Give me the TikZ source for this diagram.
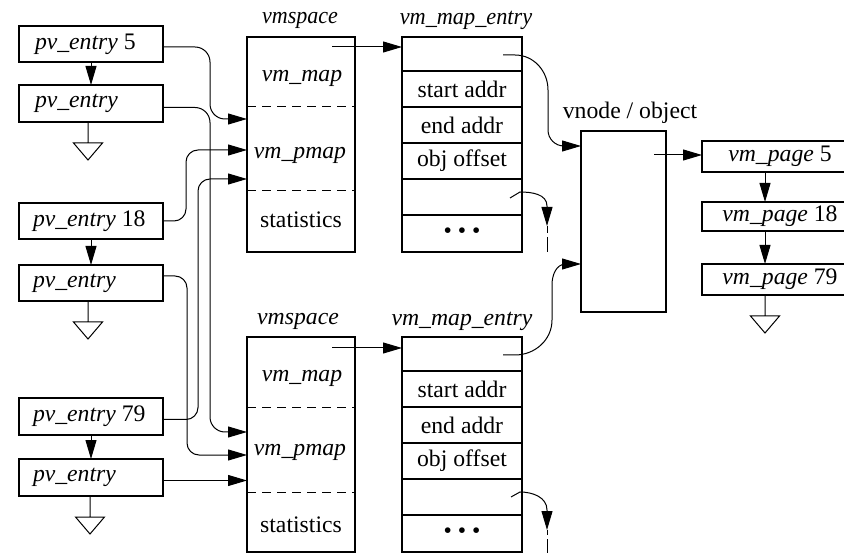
\documentclass[tikz,border=0pt]{standalone}
\usepackage{fontspec}
\setmainfont{Liberation Serif}
\usetikzlibrary{arrows.meta,calc}
\begin{document}
\begin{tikzpicture}[x=1pt,y=-1pt,
  every node/.style={font=\fontsize{23.7pt}{28pt}\selectfont, inner sep=0pt, outer sep=0pt},
  line width=1pt,
  >={Triangle[length=19pt,width=11pt]},
  frame/.style={draw, line width=1.2pt},
  pvbox/.style={frame, anchor=north west, minimum width=144pt, minimum height=36pt},
  pvtext/.style={anchor=west},
  pgbox/.style={frame, anchor=north west, minimum width=156pt, minimum height=31pt},
  cell/.style={frame, anchor=north west, minimum width=120pt, minimum height=36pt},
  spacebox/.style={frame, anchor=north west, minimum width=108pt, minimum height=215pt},
  sep/.style={dash pattern=on 9pt off 6pt},
  link/.style={->, rounded corners=15pt},
  ground/.pic={\draw (0,0) -- (0,21) (-14.5,21) -- (14.5,21) -- (0,38) -- cycle;}
]
\useasboundingbox (0,0) rectangle (844,553);

% ---- pv_entry chains ----
\node[pvbox] (pvA) at (19,26) {};
\node[pvbox, minimum height=37pt] (pvB) at (19,85) {};
\node[pvbox] (pvC) at (19,203) {};
\node[pvbox] (pvD) at (19,265) {};
\node[pvbox, minimum height=37pt] (pvE) at (19,398) {};
\node[pvbox, minimum height=37pt] (pvF) at (19,459) {};
\node[pvtext] (pvAt) at ($(pvA.west)+(16,0)$) {\textit{pv\_entry} 5};
\node[pvtext] (pvBt) at ($(pvB.west)+(16,0)$) {\textit{pv\_entry}};
\node[pvtext] (pvCt) at ($(pvC.west)+(14,0)$) {\textit{pv\_entry} 18};
\node[pvtext] (pvDt) at ($(pvD.west)+(14,0)$) {\textit{pv\_entry}};
\node[pvtext] (pvEt) at ($(pvE.west)+(14,0)$) {\textit{pv\_entry} 79};
\node[pvtext] (pvFt) at ($(pvF.west)+(14,0)$) {\textit{pv\_entry}};

\draw[->] (pvA.south) -- (pvB.north);
\draw[->] (pvC.south) -- (pvD.north);
\draw[->] (pvE.south) -- (pvF.north);
\pic at ($(pvB.south)+(-3,0)$) {ground};
\pic at ($(pvD.south)+(-3,0)$) {ground};
\pic at ($(pvF.south)+(-1,0)$) {ground};

% ---- vmspace (top) ----
\node[xscale=0.93] (vsAt) at (300,20) {\textit{vmspace}};
\node[spacebox] (vsA) at (247,37) {};
\draw[sep] (vsA.west |- 0,107) -- (vsA.east |- 0,107);
\draw[sep] (vsA.west |- 0,191) -- (vsA.east |- 0,191);
\node (vsAm) at (302,78) {\textit{vm\_map}};
\node (vsAp) at (300,155) {\textit{vm\_pmap}};
\node (vsAs) at (301,220) {statistics};

% ---- vmspace (bottom) ----
\node (vsBt) at (298,321) {\textit{vmspace}};
\node[spacebox] (vsB) at (247,337) {};
\draw[sep] (vsB.west |- 0,408) -- (vsB.east |- 0,408);
\draw[sep] (vsB.west |- 0,492) -- (vsB.east |- 0,492);
\node (vsBm) at (302,378) {\textit{vm\_map}};
\node (vsBp) at (300,452) {\textit{vm\_pmap}};
\node (vsBs) at (301,525) {statistics};

% ---- vm_map_entry (top) ----
\node[xscale=0.94] (meAt) at (466,20) {\textit{vm\_map\_entry}};
\node[cell, minimum height=34pt] (meA1) at (402,37) {};
\node[cell] (meA2) at (meA1.south west) {start addr};
\node[cell] (meA3) at (meA2.south west) {end addr};
\node[cell] (meA4) at (meA3.south west) {obj offset};
\node[cell] (meA5) at (meA4.south west) {};
\node[cell, minimum height=37pt] (meA6) at (meA5.south west) {• • •};

% ---- vm_map_entry (bottom) ----
\node (meBt) at (462,321) {\textit{vm\_map\_entry}};
\node[cell, minimum height=34pt] (meB1) at (402,337) {};
\node[cell] (meB2) at (meB1.south west) {start addr};
\node[cell] (meB3) at (meB2.south west) {end addr};
\node[cell] (meB4) at (meB3.south west) {obj offset};
\node[cell] (meB5) at (meB4.south west) {};
\node[cell, minimum height=37pt] (meB6) at (meB5.south west) {• • •};

% ---- vnode / object ----
\node (vnl) at (630,113) {vnode / object};
\node[frame, anchor=north west, minimum width=85pt, minimum height=181pt] (vn) at (581,131) {};

% ---- vm_page chain ----
\node[pgbox] (pg5) at (702,141) {\textit{vm\_page} 5};
\node[pgbox, minimum height=29pt] (pg18) at (702,202) {\textit{vm\_page} 18};
\node[pgbox] (pg79) at (702,264) {\textit{vm\_page} 79};
\draw[->] ($(pg5.south west)+(63,0)$) -- ($(pg18.north west)+(63,0)$);
\draw[->] ($(pg18.south west)+(63,0)$) -- ($(pg79.north west)+(63,0)$);
\pic at ($(pg79.south west)+(63,0)$) {ground};

% ---- pv_entry -> vmspace ----
\draw[link] ($(pvA.east)+(0,3)$) -| (210,119) -- (vsA.west |- 0,119);
\draw[link] ($(pvB.east)+(0,4)$) -| (210,432) -- (vsB.west |- 0,432);
\draw[link, rounded corners=12pt] (pvC.east) -| (186,150) -- (vsA.west |- 0,150);
\draw[link, rounded corners=12pt] ($(pvD.east)+(0,-7)$) -| (187,455) -- (vsB.west |- 0,455);
\draw[link, rounded corners=12pt] ($(pvE.east)+(0,3)$) -| (198,179) -- (vsA.west |- 0,179);
\draw[->] ($(pvF.east)+(0,3)$) coordinate (f) -- (vsB.west |- f);

% ---- vmspace -> vm_map_entry ----
\draw[->] ($(vsA.north east)+(-23,10)$) coordinate (a1) -- (meA1.west |- a1);
\draw[->] ($(vsB.north east)+(-23,11)$) coordinate (b1) -- (meB1.west |- b1);

% ---- vm_map_entry -> vnode ----
\draw[->] ($(meA1.east)+(-19,1)$) -- (515,55) to[out=0,in=90] (548,90) -- (548,130)
   to[out=-90,in=180] (564,146) -- (vn.west |- 0,146);
\draw[->] ($(meB1.east)+(-19,1)$) -- (515,355) to[out=0,in=-90] (552,320) -- (552,285)
   to[out=90,in=180] (566,264) -- (vn.west |- 0,264);

% ---- next-entry links ----
\draw[->] ($(meA5.east)+(-12,1)$) -- (520,192) to[out=0,in=90] (547,206) -- (547,226) coordinate (dA);
\draw[dash pattern=on 7pt off 4pt on 30pt] (dA) -- (547,252);
\draw[->] ($(meB5.east)+(-11,0)$) -- (520,492) to[out=0,in=90] (547,510) -- (547,530) coordinate (dB);
\draw[dash pattern=on 5pt off 4pt on 30pt] (dB) -- (547,553);

% ---- vnode -> vm_page ----
\draw[->] ($(vn.north east)+(-12,24)$) coordinate (v1) -- (pg5.west |- v1);
\end{tikzpicture}
\end{document}
